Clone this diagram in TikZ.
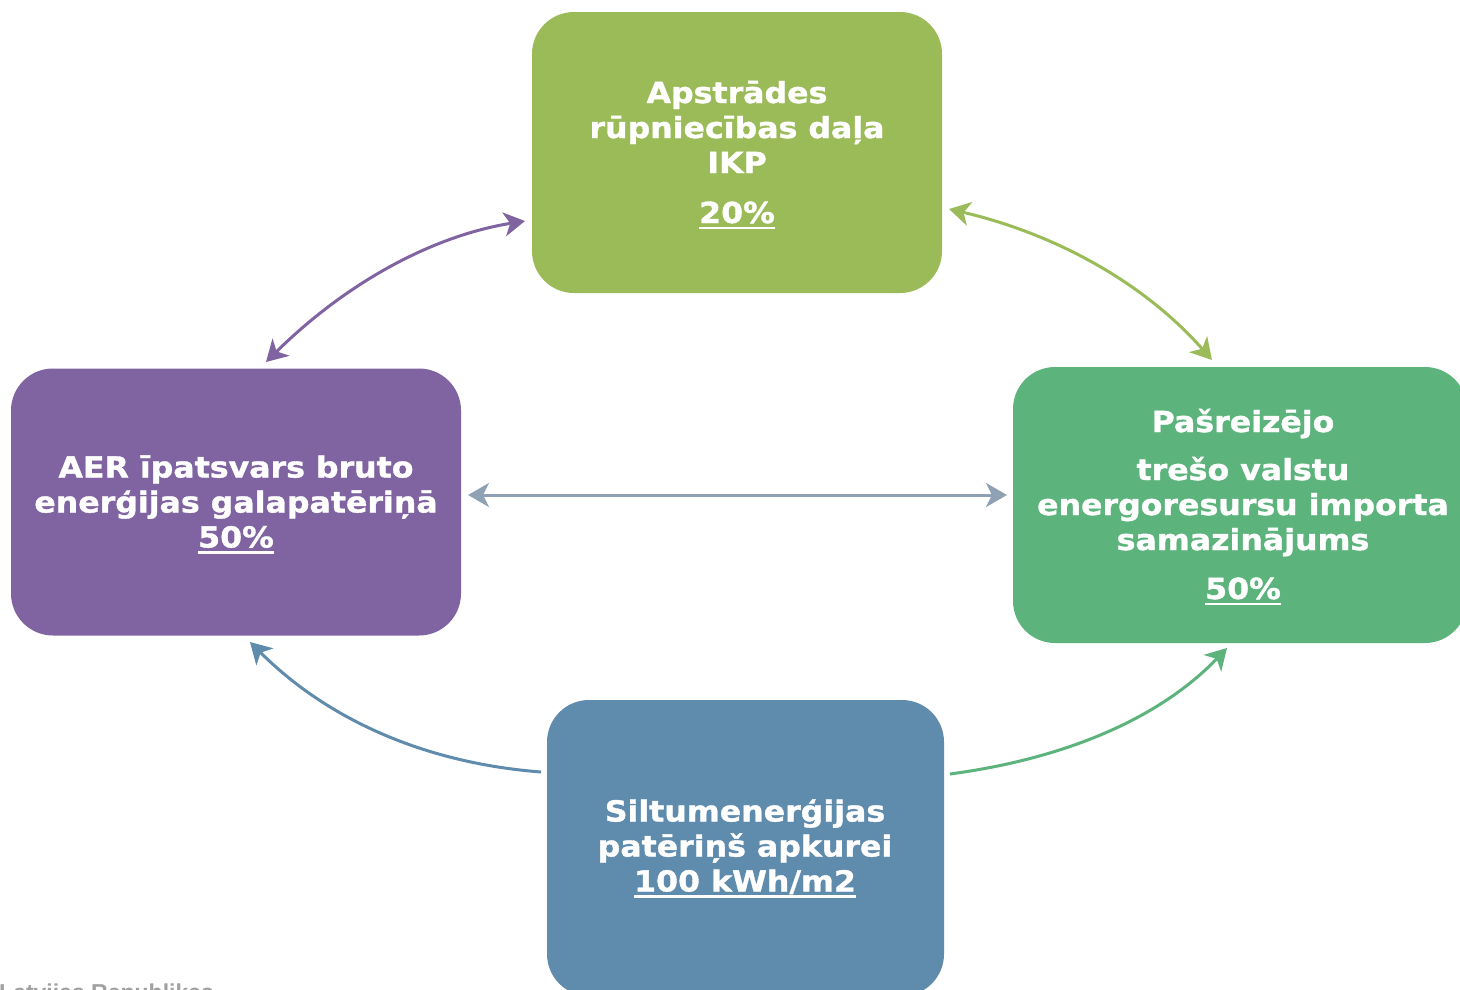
\documentclass[tikz,border=0pt]{standalone}
\usepackage{fontspec}
\setmainfont[FakeStretch=1.09,BoldFeatures={FakeBold=1.2}]{DejaVu Sans}
\newfontfamily\notefont{Liberation Sans}
\usetikzlibrary{arrows.meta}
\definecolor{cGreenTop}{HTML}{9BBB59}
\definecolor{cPurple}{HTML}{8064A2}
\definecolor{cGreen}{HTML}{5DB37C}
\definecolor{cBlue}{HTML}{5F8BAD}
\definecolor{cGrayArrow}{HTML}{8FA2B5}
\definecolor{cNote}{HTML}{A0A0A0}
\newcommand{\myul}[1]{{\setbox0\hbox{#1}\rlap{\rule[-6pt]{\wd0}{2.5pt}}\box0}}
\tikzset{
  boxnode/.style={draw=none, rectangle, rounded corners=42pt, inner sep=0pt},
  boxtext/.style={text=white, align=center, anchor=base, inner sep=0pt,
    font=\bfseries\fontsize{29}{35}\selectfont},
  conn/.style={line width=3pt, -{Stealth[length=21pt,width=24pt,inset=6pt]}},
  dconn/.style={line width=3pt, {Stealth[length=21pt,width=24pt,inset=6pt]}-{Stealth[length=21pt,width=24pt,inset=6pt]}},
}
\begin{document}
\begin{tikzpicture}[x=1pt,y=-1pt]
\useasboundingbox (0,0) rectangle (1460,989);
\clip (0,0) rectangle (1460,989);
\fill[white] (0,0) rectangle (1460,989);

% boxes
\node[boxnode, fill=cGreenTop, minimum width=410pt, minimum height=281pt] (top) at (737,152.5) {};
\node[boxnode, fill=cPurple, minimum width=450pt, minimum height=267pt] (left) at (236,502) {};
\node[boxnode, fill=cGreen, minimum width=454pt, minimum height=276pt] (right) at (1240,505) {};
\node[boxnode, fill=cBlue, minimum width=397pt, minimum height=296pt] (bottom) at (745.5,848) {};

% texts (anchor base = baseline of last line)
\node[boxtext] (toptext) at (737,223) {Apstrādes\\rūpniecības daļa\\IKP\\[15pt]\myul{20\%}};
\node[boxtext] (lefttext) at (236,547.5) {AER īpatsvars bruto\\enerģijas galapatēriņā\\\myul{50\%}};
\node[boxtext] (righttext) at (1243,599) {Pašreizējo\\[13pt]trešo valstu\\energoresursu importa\\samazinājums\\[14pt]\myul{50\%}};
\node[boxtext] (bottomtext) at (745,891.5) {Siltumenerģijas\\patēriņš apkurei\\\myul{100 kWh/m2}};

% note
\node[anchor=base west, inner sep=0pt, text=cNote, font=\notefont\bfseries\fontsize{23}{26}\selectfont] (note) at (-1,1000) {Latvijas Republikas};

% connector end points
\coordinate (ps) at (266,362);
\coordinate (pe) at (525,221);
\coordinate (gs) at (949,209);
\coordinate (ge) at (1212,360);
\coordinate (hs) at (468,495);
\coordinate (he) at (1007,495);
\coordinate (bs) at (541,772);
\coordinate (be) at (250,642);
\coordinate (ds) at (950,774);
\coordinate (de) at (1227,648);

% connectors
\draw[dconn, draw=cPurple] (ps) .. controls (346,283) and (432,236) .. (pe);
\draw[dconn, draw=cGreenTop] (gs) .. controls (1060,235) and (1147,286) .. (ge);
\draw[dconn, draw=cGrayArrow] (hs) -- (he);
\draw[conn, draw=cBlue] (bs) .. controls (424,763) and (327,719) .. (be);
\draw[conn, draw=cGreen] (ds) .. controls (1070,758) and (1162,716) .. (de);
\end{tikzpicture}
\end{document}
